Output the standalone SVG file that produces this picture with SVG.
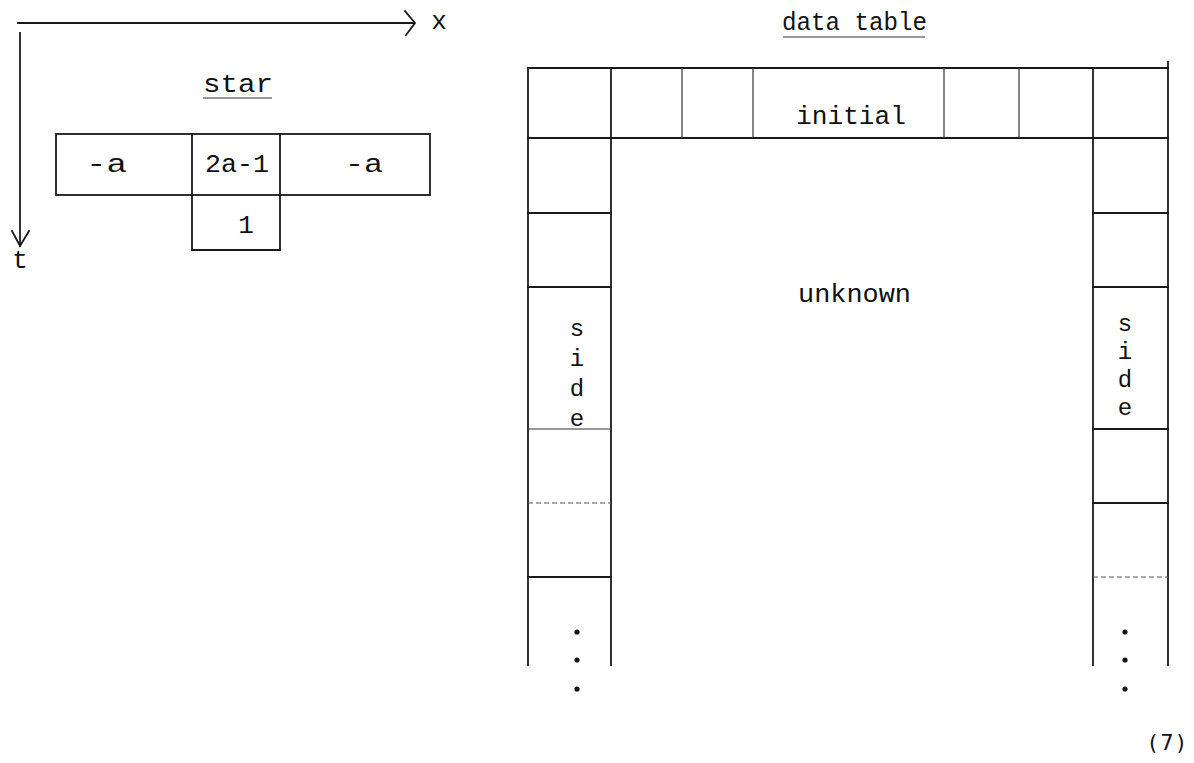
<svg xmlns="http://www.w3.org/2000/svg" width="1194" height="763" viewBox="0 0 1194 763">
<style>
.ln{stroke:#1a1a1a;stroke-width:1.8;fill:none;stroke-linecap:square}
.thin{stroke:#333;stroke-width:1.2;fill:none}
.faint{stroke:#555;stroke-width:1;fill:none;stroke-dasharray:5 3}
.t{font-family:"Liberation Mono","Courier New",monospace;font-size:26px;fill:#111}
.s{font-family:"Liberation Mono","Courier New",monospace;font-size:24px;fill:#111;text-anchor:middle}
.m{text-anchor:middle}
.dot{fill:#111}
</style>
<rect width="1194" height="763" fill="#fff"/>
<g id="axes">
<line class="ln" x1="18" y1="23" x2="414" y2="23"/>
<polyline class="ln" points="405,11 415,23 406,35"/>
<text class="t m" x="439" y="29">x</text>
<line class="ln" x1="20" y1="33" x2="20" y2="246"/>
<polyline class="ln" points="12,231 20,246 29,231"/>
<text class="t m" x="20" y="268">t</text>
</g>
<g id="star">
<text class="t" x="203" y="92" textLength="70" lengthAdjust="spacingAndGlyphs">star</text>
<line class="thin" x1="203" y1="98" x2="272" y2="98"/>
<rect class="ln" x="56" y="134" width="374" height="61"/>
<line class="ln" x1="192" y1="134" x2="192" y2="250"/>
<line class="ln" x1="280" y1="134" x2="280" y2="250"/>
<line class="ln" x1="192" y1="250" x2="280" y2="250"/>
<text class="t" x="86" y="172" textLength="41" lengthAdjust="spacingAndGlyphs">-a</text>
<text class="t" x="205" y="172" textLength="64" lengthAdjust="spacingAndGlyphs">2a-1</text>
<text class="t" x="345" y="172" textLength="38" lengthAdjust="spacingAndGlyphs">-a</text>
<text class="t m" x="246" y="233">1</text>
</g>
<g id="data-table">
<text class="t" x="782" y="30" textLength="145" lengthAdjust="spacingAndGlyphs">data table</text>
<line class="thin" x1="783" y1="37" x2="925" y2="37"/>
<line class="ln" x1="528" y1="68" x2="1168" y2="68"/>
<line class="ln" x1="528" y1="138" x2="1168" y2="138"/>
<line class="ln" x1="528" y1="68" x2="528" y2="665"/>
<line class="ln" x1="1168" y1="62" x2="1168" y2="665"/>
<line class="ln" x1="611" y1="68" x2="611" y2="665"/>
<line class="ln" x1="1093" y1="68" x2="1093" y2="665"/>
<line class="thin" x1="682" y1="68" x2="682" y2="138"/>
<line class="thin" x1="753" y1="68" x2="753" y2="138"/>
<line class="thin" x1="944" y1="68" x2="944" y2="138"/>
<line class="thin" x1="1019" y1="68" x2="1019" y2="138"/>
<text class="t" x="796" y="124" textLength="110" lengthAdjust="spacingAndGlyphs">initial</text>
<text class="t" x="798" y="302" textLength="113" lengthAdjust="spacingAndGlyphs">unknown</text>
</g>
<g id="left-side">
<line class="ln" x1="528" y1="213" x2="611" y2="213"/>
<line class="ln" x1="528" y1="287" x2="611" y2="287"/>
<line class="thin" x1="528" y1="429" x2="611" y2="429"/>
<line class="faint" x1="528" y1="503" x2="611" y2="503"/>
<line class="ln" x1="528" y1="577" x2="611" y2="577"/>
<text class="s" x="577" y="336">s</text>
<text class="s" x="577" y="366">i</text>
<text class="s" x="577" y="396">d</text>
<text class="s" x="577" y="426">e</text>
<circle class="dot" cx="577" cy="632" r="2.6"/>
<circle class="dot" cx="577" cy="660" r="2.6"/>
<circle class="dot" cx="577" cy="689" r="2.6"/>
</g>
<g id="right-side">
<line class="ln" x1="1093" y1="213" x2="1168" y2="213"/>
<line class="ln" x1="1093" y1="287" x2="1168" y2="287"/>
<line class="ln" x1="1093" y1="429" x2="1168" y2="429"/>
<line class="ln" x1="1093" y1="503" x2="1168" y2="503"/>
<line class="faint" x1="1093" y1="577" x2="1168" y2="577"/>
<text class="s" x="1125" y="331">s</text>
<text class="s" x="1125" y="359">i</text>
<text class="s" x="1125" y="387">d</text>
<text class="s" x="1125" y="415">e</text>
<circle class="dot" cx="1125" cy="632" r="2.6"/>
<circle class="dot" cx="1125" cy="660" r="2.6"/>
<circle class="dot" cx="1125" cy="689" r="2.6"/>
</g>
<text id="eqno" x="1149" y="750" font-family="'DejaVu Sans',sans-serif" font-size="21" letter-spacing="3" fill="#111">(7)</text>
</svg>
